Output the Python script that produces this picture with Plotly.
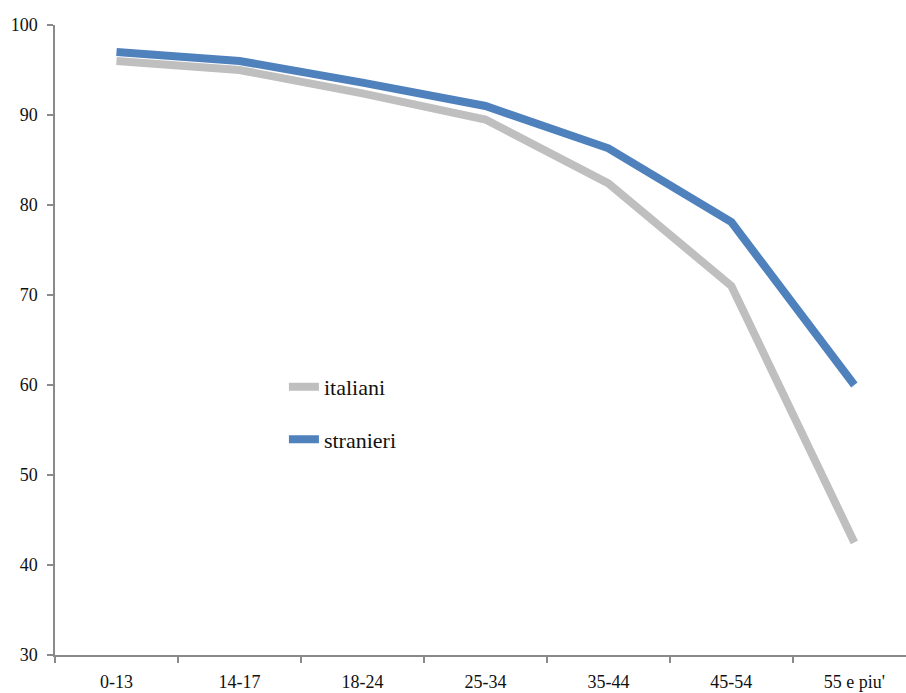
import plotly.graph_objects as go

# Age classes and shares (%) for the two groups
age_classes = ["0-13", "14-17", "18-24", "25-34", "35-44", "45-54", "55 e piu'"]
italiani = [96.0, 95.0, 92.4, 89.5, 82.4, 71.0, 42.5]
stranieri = [97.0, 96.0, 93.6, 91.0, 86.3, 78.1, 60.0]
y_ticks = [30, 40, 50, 60, 70, 80, 90, 100]

SERIF = "Liberation Serif, Times New Roman, serif"
AXIS_GREY = "#8a8a8a"

fig = go.Figure()
fig.add_trace(go.Scatter(
    x=age_classes, y=italiani, name="italiani", mode="lines",
    line=dict(color="#bfbfbf", width=8), legendgroup="a",
))
fig.add_trace(go.Scatter(
    x=age_classes, y=stranieri, name="stranieri", mode="lines",
    line=dict(color="#4f81bd", width=8), legendgroup="b",
))

fig.update_layout(
    width=906, height=693,
    margin=dict(l=55, r=0, t=25, b=38),
    paper_bgcolor="white", plot_bgcolor="white",
    font=dict(family=SERIF, size=18, color="#111111"),
    showlegend=True,
    legend=dict(
        x=0.269, y=0.459, xanchor="left", yanchor="top",
        traceorder="grouped", tracegroupgap=21,
        font=dict(family=SERIF, size=22, color="#111111"),
        bgcolor="rgba(0,0,0,0)", itemwidth=30,
    ),
    xaxis=dict(
        type="category", range=[-0.5, 6.42],
        showgrid=False, zeroline=False,
        showline=True, linecolor=AXIS_GREY, linewidth=1.5,
        ticks="outside", tickson="boundaries", ticklen=6,
        tickcolor=AXIS_GREY, tickwidth=1.5,
        ticklabelstandoff=10,
        tickfont=dict(family=SERIF, size=18),
    ),
    yaxis=dict(
        range=[30, 100], tickvals=y_ticks,
        showgrid=False, zeroline=False,
        showline=True, linecolor=AXIS_GREY, linewidth=1.5,
        ticks="outside", ticklen=6, tickcolor=AXIS_GREY, tickwidth=1.5,
        ticklabelstandoff=6,
        tickfont=dict(family=SERIF, size=18),
    ),
)

fig.write_html("out.html")
